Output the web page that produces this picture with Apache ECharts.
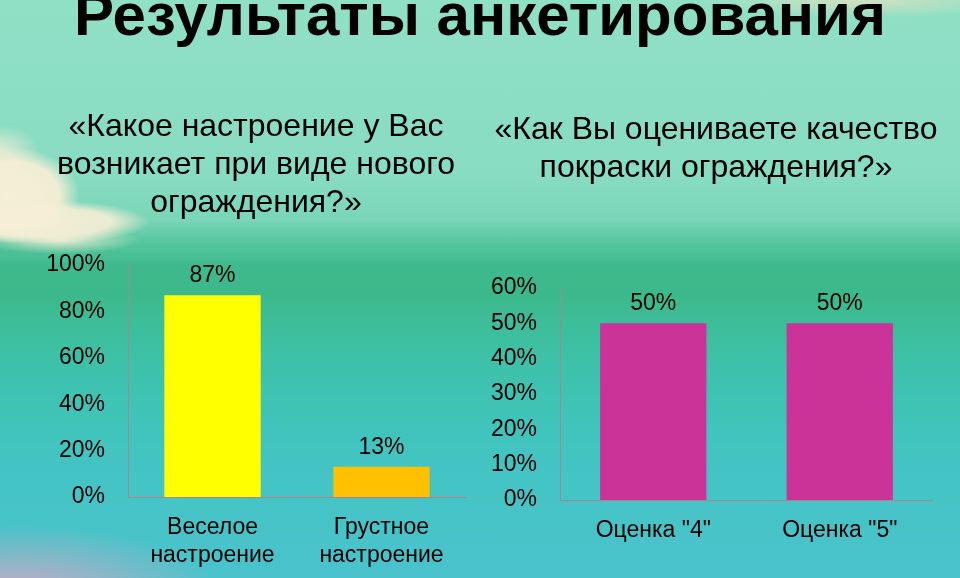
<!DOCTYPE html>
<html>
<head>
<meta charset="utf-8">
<script src="https://cdn.jsdelivr.net/npm/echarts@6/dist/echarts.min.js"></script>
<style>
html,body{margin:0;padding:0;width:960px;height:578px;overflow:hidden;}
body{
  background:
    radial-gradient(ellipse 70px 48px at 10px 195px, rgba(246,238,214,1) 0%, rgba(246,238,214,0.95) 70%, rgba(246,238,214,0) 100%),
    radial-gradient(ellipse 110px 22px at 40px 222px, rgba(246,238,214,0.98) 0%, rgba(246,238,214,0.9) 65%, rgba(246,238,214,0) 100%),
    radial-gradient(ellipse 80px 14px at 60px 240px, rgba(246,238,214,0.9) 0%, rgba(246,238,214,0) 100%),
    radial-gradient(ellipse 40px 25px at 0px 150px, rgba(246,238,214,0.8) 0%, rgba(246,238,214,0) 100%),
    radial-gradient(ellipse 200px 70px at 20px 595px, rgba(226,165,195,0.85) 0%, rgba(226,165,195,0) 100%),
    radial-gradient(ellipse 160px 18px at 860px 0px, rgba(240,225,190,0.7) 0%, rgba(240,225,190,0) 100%),
    linear-gradient(to bottom, #90e0c6 0%, #88dcc1 30%, #7ad6b8 38%, #55c69e 42%, #3eb98c 46%, #3cb98c 51%, #3dbf9f 58%, #3ec3b3 68%, #43c4c3 80%, #4ac3cc 100%);
}
#c{width:960px;height:578px;}
</style>
</head>
<body>
<div id="c"></div>
<script>
const catsMood = ['Веселое\nнастроение', 'Грустное\nнастроение'];
const valsMood = [87, 13];
const colorsMood = ['#FFFF00', '#FFC000'];
const ticksMoodMax = 100, ticksMoodStep = 20;

const catsQuality = ['Оценка "4"', 'Оценка "5"'];
const valsQuality = [50, 50];
const colorQuality = '#CC3399';
const ticksQualityMax = 60, ticksQualityStep = 10;

const mainTitle = 'Результаты анкетирования';
const subLeft = '«Какое настроение у Вас\nвозникает при виде нового\nограждения?»';
const subRight = '«Как Вы оцениваете качество\nпокраски ограждения?»';

const FONT = '"Liberation Sans", Arial, sans-serif';
const axisLineColor = '#a8868f';

const chart = echarts.init(document.getElementById('c'), null, {renderer: 'canvas'});
const lbl = {color: '#000', fontSize: 23, fontFamily: FONT};

chart.setOption({
  backgroundColor: 'transparent',
  animation: false,
  title: [
    {text: mainTitle, left: 'center', top: -17,
     textStyle: {fontSize: 60, fontWeight: 'bold', color: '#000', fontFamily: FONT, lineHeight: 60}},
    {text: subLeft, left: 251, textAlign: 'center', top: 103,
     textStyle: {fontSize: 32, fontWeight: 'normal', color: '#000', fontFamily: FONT, lineHeight: 38}},
    {text: subRight, left: 711, textAlign: 'center', top: 106,
     textStyle: {fontSize: 32, fontWeight: 'normal', color: '#000', fontFamily: FONT, lineHeight: 38}}
  ],
  grid: [
    {left: 128, right: 494, top: 265, bottom: 81},
    {left: 560, right: 27, top: 288, bottom: 78}
  ],
  xAxis: [
    {type: 'category', gridIndex: 0, data: catsMood,
     axisLine: {lineStyle: {color: axisLineColor, width: 1}}, axisTick: {show: false},
     axisLabel: Object.assign({margin: 17, lineHeight: 28, interval: 0}, lbl)},
    {type: 'category', gridIndex: 1, data: catsQuality,
     axisLine: {lineStyle: {color: axisLineColor, width: 1}}, axisTick: {show: false},
     axisLabel: Object.assign({margin: 17, lineHeight: 28, interval: 0}, lbl)}
  ],
  yAxis: [
    {type: 'value', gridIndex: 0, min: 0, max: ticksMoodMax, interval: ticksMoodStep,
     axisLine: {show: true, lineStyle: {color: axisLineColor, width: 1}}, axisTick: {show: false},
     splitLine: {show: false},
     axisLabel: Object.assign({margin: 23, formatter: v => v + '%'}, lbl)},
    {type: 'value', gridIndex: 1, min: 0, max: ticksQualityMax, interval: ticksQualityStep,
     axisLine: {show: true, lineStyle: {color: axisLineColor, width: 1}}, axisTick: {show: false},
     splitLine: {show: false},
     axisLabel: Object.assign({margin: 23, formatter: v => v + '%'}, lbl)}
  ],
  series: [
    {type: 'bar', xAxisIndex: 0, yAxisIndex: 0, barWidth: '57%',
     data: valsMood.map((v, i) => ({value: v, itemStyle: {color: colorsMood[i]}})),
     label: Object.assign({show: true, position: 'top', distance: 8, formatter: p => p.value + '%'}, lbl)},
    {type: 'bar', xAxisIndex: 1, yAxisIndex: 1, barWidth: '57%',
     data: valsQuality, itemStyle: {color: colorQuality},
     label: Object.assign({show: true, position: 'top', distance: 8, formatter: p => p.value + '%'}, lbl)}
  ]
});
</script>
</body>
</html>
